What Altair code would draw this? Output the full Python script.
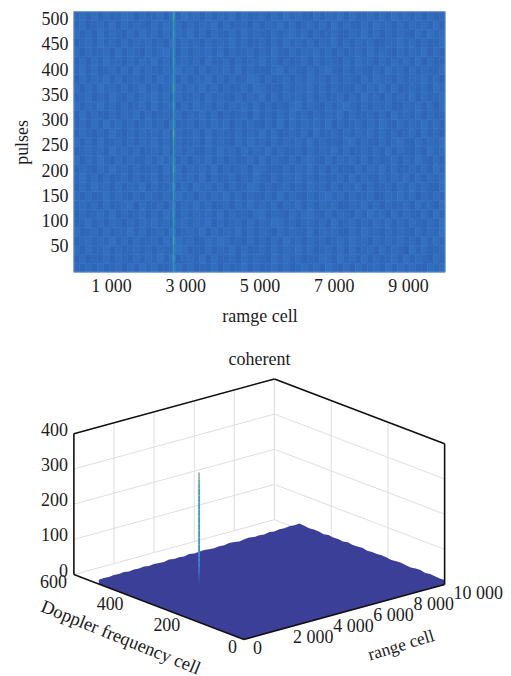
import numpy as np
import pandas as pd
import altair as alt

FONT = "Liberation Serif"
INK = "#1c1c1c"

# ---- upper panel: pulses vs. range cell, cell amplitude read by eye on a 0-9 scale
NOISE = [
 "43526345263745234635243625347253463524635274352634527364532645",
 "35243635426354736245372634526354274635243652745362534627354263",
 "52634725346352643753426354726345263547362453627345263541736245",
 "24635473526345273645236475342635263745263524637452635463527364",
 "63452635473624536245372635472635426354372645326374526354263547",
 "34725364253647352463547263452635476352463527346253647253642537",
 "25346372534625374263546372534267354263574263542637452635436274",
 "46352634572634526354736245263745362547263546235473625346273526",
 "53624735426354263745263547362543627354263574625346235473625364",
 "26374526354726345362745362534762534625374526354726345263745326",
 "47352634625347263546372534625374263547362534627354263547263546",
 "35426374526345273625463725346275342635473625342635473624536274",
 "62537426354263745362547362534627354263574263546372534625374263",
 "24536274536245372635426374526354726345263547362453627354263745",
 "53627345263547362534627354263745263546372534267354263574263546",
 "36425374263546372534627354263547362453627345263547362534627352",
 "45263746352463527346253647253642537263546372534625374263547362",
 "27354263547263452635473625346273526374526354726345362745362534",
 "63547362534627354263745263546372534267354263574263546235473625",
 "34625374263547362534627354263547263546372534625374526354726345",
 "52637453624736254635473625346275342635473625342635473624536274",
 "26354726345263745362547362534762534625374526354263745263547362",
 "47362453627354263745263546372534267354263574263542637452635436",
 "35263745263547362453627345263547362534627354263745263546372534",
 "62534627354263574263546372534625374263547362534627354263547263",
 "24637452635463527364526354736245263745362547263546235473625346",
 "53627354263745263547362543627354263574625346235473625364263745",
 "36245372635426374526354726345263547362453627354263745263546372",
 "45362534762534625374526354726345263745326354726345362745362534",
]
RIDGE = [5, 7, 6, 8, 5, 6, 7, 4, 6, 7, 5, 8, 6, 5, 7, 9, 6, 5, 7, 6, 8, 5, 6, 7, 6, 4, 7, 6, 8]
RANGE_MAX = 10000
PULSE_MAX = 516
RIDGE_CELL = 2660
RIDGE_WIDTH = 50
X_TICKS = [1000, 3000, 5000, 7000, 9000]
Y_TICKS = [50, 100, 150, 200, 250, 300, 350, 400, 450, 500]

# ---- lower panel: values in (range cell, Doppler cell, amplitude)
R_TICKS = [0, 2000, 4000, 6000, 8000, 10000]
R_LABELS = ["0", "2 000", "4 000", "6 000", "8 000", "10 000"]
D_TICKS = [0, 200, 400, 600]
Z_TICKS = [0, 100, 200, 300, 400]
SURFACE_D = 512
# noise floor along the far edges of the surface
FLOOR_ALONG_R = [12, 13, 12, 14, 13, 15, 12, 14, 13, 15, 12, 14, 13, 12, 15, 13, 14, 12, 15, 13,
                 14, 15, 13, 12, 14, 13, 15, 14, 12, 14, 15, 13, 14, 12, 15, 13, 15, 14, 16, 15, 16]
FLOOR_ALONG_D = [15, 13, 15, 14, 12, 15, 13, 14, 12, 15, 13, 14, 15, 12, 14, 13, 15, 14, 12, 14,
                 15, 13, 12, 14, 15, 12, 14, 13, 12, 13]
PEAK_R = 2680
PEAK_D = 348
PEAK_Z = [6, 12, 20, 30, 40, 55, 70, 85, 100, 120, 140, 160, 180, 200, 220, 240, 260, 280, 295, 305, 315, 326]


def project(r, d, z):
    """Oblique view of the 3-D axes box, into the panel's own plotting units."""
    px = 170.5 + 201.0 * np.asarray(r) / 10000 - 170.5 * np.asarray(d) / 600
    py = 261.0 - 55.0 * np.asarray(r) / 10000 - 65.0 * np.asarray(d) / 600 - 141.0 * np.asarray(z) / 400
    return px, py


def seg(p, q):
    a, b = project(*p), project(*q)
    return {"x": float(a[0]), "y": float(a[1]), "x2": float(b[0]), "y2": float(b[1])}


# ---- upper panel tables
ncols = len(NOISE[0])
nrows = len(NOISE)
cw = RANGE_MAX / ncols
ch = PULSE_MAX / nrows
cells = []
for i, row in enumerate(NOISE):
    for j, c in enumerate(row):
        cells.append({"r0": j * cw, "r1": (j + 1) * cw, "p0": i * ch, "p1": (i + 1) * ch, "a": int(c)})
ridge = [{"r0": RIDGE_CELL, "r1": RIDGE_CELL + RIDGE_WIDTH, "p0": i * ch, "p1": (i + 1) * ch, "a": 10 + v}
         for i, v in enumerate(RIDGE)]

heat_scale = alt.Scale(domain=[2, 7, 14, 19], range=["#2e65b6", "#3370c2", "#3590b0", "#42ad98"])
heat_color = alt.Color("a:Q", legend=None, scale=heat_scale)
heat_stroke = alt.Stroke("a:Q", legend=None, scale=heat_scale)
hx = alt.X("r0:Q", scale=alt.Scale(domain=[0, RANGE_MAX], nice=False),
           axis=alt.Axis(values=X_TICKS, labelExpr="replace(format(datum.value, ','), ',', ' ')",
                         title="ramge cell", ticks=False, domain=False, grid=False,
                         labelFont=FONT, labelFontSize=18, labelColor=INK, labelPadding=5,
                         titleFont=FONT, titleFontSize=18, titleFontWeight="normal", titleColor=INK,
                         titlePadding=12, labelFlush=False))
hy = alt.Y("p0:Q", scale=alt.Scale(domain=[0, PULSE_MAX], nice=False),
           axis=alt.Axis(values=Y_TICKS, title="pulses", ticks=False, domain=False, grid=False,
                         labelFont=FONT, labelFontSize=18, labelColor=INK, labelPadding=6, labelOverlap=False,
                         titleFont=FONT, titleFontSize=18, titleFontWeight="normal", titleColor=INK,
                         titlePadding=9))
heat = alt.Chart(pd.DataFrame(cells)).mark_rect(strokeWidth=0.6).encode(
    x=hx, x2="r1:Q", y=hy, y2="p1:Q", color=heat_color, stroke=heat_stroke)
ridge_layer = alt.Chart(pd.DataFrame(ridge)).mark_rect().encode(
    x=hx, x2="r1:Q", y=hy, y2="p1:Q", color=heat_color)
frame = alt.Chart(pd.DataFrame({"r0": [0], "r1": [RANGE_MAX], "p0": [0], "p1": [PULSE_MAX]})).mark_rect(
    fill=None, stroke="#7b9edb", strokeWidth=1, opacity=0.8).encode(x=hx, x2="r1:Q", y=hy, y2="p1:Q")
top = alt.layer(heat, ridge_layer, frame).properties(width=372, height=261)

# ---- lower panel tables
grid = []
for r in R_TICKS:
    grid.append(seg((r, 600, 0), (r, 600, 400)))
for d in D_TICKS:
    grid.append(seg((10000, d, 0), (10000, d, 400)))
for z in Z_TICKS:
    grid.append(seg((0, 600, z), (10000, 600, z)))
    grid.append(seg((10000, 600, z), (10000, 0, z)))

box = [seg(*pair) for pair in [
    ((0, 600, 0), (0, 600, 400)),
    ((0, 600, 400), (10000, 600, 400)),
    ((10000, 600, 400), (10000, 0, 400)),
    ((10000, 0, 400), (10000, 0, 0)),
    ((10000, 0, 0), (0, 0, 0)),
    ((0, 0, 0), (0, 600, 0)),
]]

# surface silhouette: far edges (jagged) as the top, near edges as the bottom
rs = np.linspace(0, 10000, len(FLOOR_ALONG_R))
ds = np.linspace(SURFACE_D, 0, len(FLOOR_ALONG_D) + 1)[1:]
tx1, ty1 = project(rs, SURFACE_D, FLOOR_ALONG_R)
tx2, ty2 = project(10000, ds, FLOOR_ALONG_D)
sx = np.concatenate([tx1, tx2])
sy = np.concatenate([ty1, ty2])
corner = [project(0, SURFACE_D, 0), project(0, 0, 0), project(10000, 0, 0)]
low = np.interp(sx, [c[0] for c in corner], [c[1] for c in corner])
surface_df = pd.DataFrame({"x": sx, "y": sy, "y2": low})

pz = np.asarray(PEAK_Z)
px0, py0 = project(PEAK_R, PEAK_D, pz[:-1])
px1, py1 = project(PEAK_R, PEAK_D, pz[1:])
peak_df = pd.DataFrame({"x": px0, "y": py0, "y2": py1, "z": pz[1:]})

pxs = alt.Scale(domain=[0, 372], range=[0, 372], nice=False, zero=False)
pys = alt.Scale(domain=[0, 261], range=[0, 261], nice=False, zero=False)
X = alt.X("x:Q", scale=pxs, axis=None)
Y = alt.Y("y:Q", scale=pys, axis=None)


def lines(rows, color, width):
    return alt.Chart(pd.DataFrame(rows)).mark_rule(color=color, strokeWidth=width, clip=False).encode(
        x=X, y=Y, x2="x2:Q", y2="y2:Q")


def labels(texts, rs_, ds_, zs_, **mark):
    a, b = project(rs_, ds_, zs_)
    df = pd.DataFrame({"x": a, "y": b, "t": texts})
    return alt.Chart(df).mark_text(font=FONT, color=INK, baseline="middle", **mark).encode(
        x=X, y=Y, text="t:N")


grid_layer = lines(grid, "#dedede", 1)
surface = alt.Chart(surface_df).mark_area(color="#3c3f98", clip=False, interpolate="linear").encode(
    x=X, y=Y, y2="y2:Q")
peak = alt.Chart(peak_df).mark_rule(strokeWidth=1.8, clip=False).encode(
    x=X, y=Y, y2="y2:Q",
    color=alt.Color("z:Q", legend=None,
                    scale=alt.Scale(domain=[6, 40, 70, 150, 280, 326],
                                    range=["#3c3f98", "#3f5cb4", "#3b84d2", "#3a97da", "#3aa0c8", "#a8b090"])))
box_layer = lines(box, "#111111", 1.6)

z_lab = labels([str(z) for z in Z_TICKS], [0] * 5, [600] * 5, Z_TICKS, align="right", dx=-6, dy=-3, fontSize=18)
d_lab = labels([str(d) for d in D_TICKS], [0] * 4, D_TICKS, [0] * 4, align="right", dx=-7, dy=8.5, fontSize=18)
r_lab = labels(R_LABELS, R_TICKS, [0] * 6, [0] * 6, align="left", dx=9, dy=9.5, fontSize=18)
d_title = labels(["Doppler frequency cell"], [0], [300], [0], align="center", dx=-24, dy=42.5, angle=22, fontSize=18.5)
r_title = labels(["range cell"], [5000], [0], [0], align="center", dx=44.6, dy=49, angle=343, fontSize=17.5)

bottom = alt.layer(grid_layer, surface, peak, box_layer, z_lab, d_lab, r_lab, d_title, r_title).properties(
    width=372, height=261,
    title=alt.TitleParams("coherent", font=FONT, fontSize=18, fontWeight="normal", color=INK,
                          anchor="middle", offset=9))

chart = alt.vconcat(top, bottom, spacing=26).resolve_scale(
    x="independent", y="independent", color="independent", stroke="independent"
).properties(padding={"left": 6, "top": 2, "right": 0, "bottom": 0}).configure_view(stroke=None)

chart.save("out.html", embed_options={"renderer": "svg", "actions": False})
